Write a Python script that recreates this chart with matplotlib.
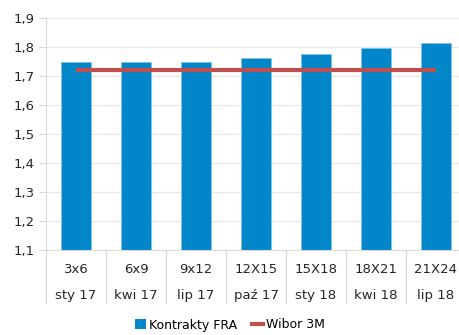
import matplotlib.pyplot as plt
from matplotlib.lines import Line2D
from matplotlib.patches import Patch
import numpy as np

kontrakty = ["3x6", "6x9", "9x12", "12X15", "15X18", "18X21", "21X24"]
miesiace = ["sty 17", "kwi 17", "lip 17", "paź 17", "sty 18", "kwi 18", "lip 18"]
fra = [1.747, 1.747, 1.750, 1.761, 1.776, 1.795, 1.815]
wibor = [1.72, 1.72, 1.72, 1.72, 1.72, 1.72, 1.72]

NIEBIESKI = "#0086C9"
CZERWONY = "#C0504D"
SZARY = "#D9D9D9"
TEKST = "#262626"

plt.rcParams['font.family'] = ['DejaVu Sans']

fig = plt.figure(figsize=(4.6, 3.35), dpi=100)
ax = fig.add_axes([46 / 460, 85 / 335, 420 / 460, 232 / 335])

x = np.arange(len(kontrakty))
ax.bar(x, fra, width=0.5, color=NIEBIESKI, edgecolor="#7FC3E6", linewidth=0.4,
       zorder=2)
ax.plot(x, wibor, color=CZERWONY, linewidth=3, solid_capstyle="butt", zorder=3)

ax.set_ylim(1.1, 1.9)
ax.set_xlim(-0.5, len(kontrakty) - 0.5)
yt = np.arange(1.1, 1.91, 0.1)
ax.set_yticks(yt)
ax.set_yticklabels([f"{v:.1f}".replace(".", ",") for v in yt], fontsize=9.5,
                   color=TEKST)
ax.yaxis.grid(True, color="#E8E8E8", linewidth=0.9, zorder=0)
ax.set_axisbelow(True)
ax.tick_params(axis="y", length=5, color=SZARY, pad=3)
ax.set_xticks([])

for s in ["top", "right"]:
    ax.spines[s].set_visible(False)
ax.spines["left"].set_color(SZARY)
ax.spines["bottom"].set_color(SZARY)

# dwa wiersze etykiet osi X i pionowe separatory kategorii
trans = ax.get_xaxis_transform()
for i in range(len(kontrakty)):
    ax.text(i, -23 / 232, kontrakty[i], transform=trans, ha="center",
            va="baseline", fontsize=9.5, color=TEKST)
    ax.text(i, -49 / 232, miesiace[i], transform=trans, ha="center",
            va="baseline", fontsize=9.5, color=TEKST)
for b in np.arange(-0.5, len(kontrakty), 1.0):
    ax.add_line(Line2D([b, b], [0, -53 / 232], transform=trans, color=SZARY,
                       linewidth=0.9, clip_on=False))

uchwyty = [Patch(facecolor=NIEBIESKI, edgecolor="none"),
           Line2D([0], [0], color=CZERWONY, linewidth=3)]
fig.legend(uchwyty, ["Kontrakty FRA", "Wibor 3M"], loc="center",
           bbox_to_anchor=(0.5, 10 / 335), ncol=2, frameon=False, fontsize=9,
           handlelength=0.9, handleheight=0.8, handletextpad=0.2,
           columnspacing=1.2)

fig.savefig("out.png", dpi=100)
